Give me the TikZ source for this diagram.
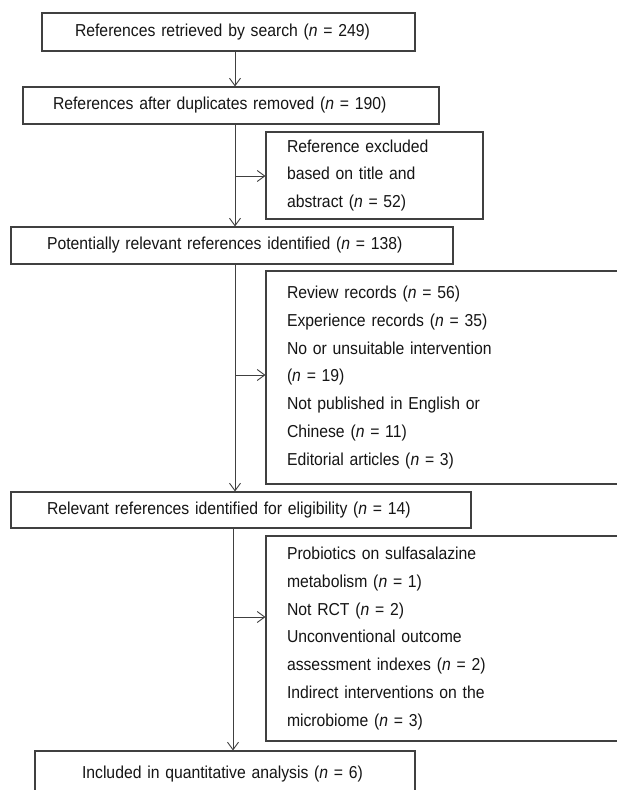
\documentclass[tikz,border=0pt]{standalone}
\usepackage{fontspec}
\setmainfont{Liberation Sans}[FakeStretch=0.91]
\usetikzlibrary{arrows.meta}
\definecolor{linec}{HTML}{404040}
\definecolor{textc}{HTML}{151515}
\newcommand{\nn}{\textit{n}}
\begin{document}
\begin{tikzpicture}[x=1pt,y=-1pt,
  box/.style={draw=linec, line width=1.1pt, rectangle, align=left, inner ysep=0pt,
    text=textc, font={\fontsize{17.3}{27.8}\selectfont}},
  arr/.style={draw=linec, line width=0.9pt, -{Straight Barb[length=7.5pt,width=11pt,line width=0.9pt]}}
]
\useasboundingbox (0,0) rectangle (616,790);
\fill[white] (0,0) rectangle (616,790);

\node[box, minimum width=373pt, minimum height=38pt, inner xsep=33pt, text width=307pt] (b1) at (228.5,32)
  {References retrieved by search (\nn{} = 249)};
\node[box, minimum width=416pt, minimum height=37pt, inner xsep=30pt, text width=356pt] (b2) at (231,105.5)
  {References after duplicates removed (\nn{} = 190)};
\node[box, minimum width=217pt, minimum height=87pt, inner xsep=21pt, text width=175pt] (b3) at (374.5,175.5)
  {Reference excluded\\based on title and\\abstract (\nn{} = 52)};
\node[box, minimum width=442pt, minimum height=37pt, inner xsep=36pt, text width=370pt] (b4) at (232,245.5)
  {Potentially relevant references identified (\nn{} = 138)};
\node[box, minimum width=364pt, minimum height=213pt, inner xsep=21pt, text width=322pt] (b5) at (448,377.5)
  {Review records (\nn{} = 56)\\Experience records (\nn{} = 35)\\No or unsuitable intervention\\(\nn{} = 19)\\Not published in English or\\Chinese (\nn{} = 11)\\Editorial articles (\nn{} = 3)};
\node[box, minimum width=460pt, minimum height=36pt, inner xsep=36pt, text width=388pt] (b6) at (241,510)
  {Relevant references identified for eligibility (\nn{} = 14)};
\node[box, minimum width=364pt, minimum height=205pt, inner xsep=21pt, text width=322pt] (b7) at (448,638.5)
  {Probiotics on sulfasalazine\\metabolism (\nn{} = 1)\\Not RCT (\nn{} = 2)\\Unconventional outcome\\assessment indexes (\nn{} = 2)\\Indirect interventions on the\\microbiome (\nn{} = 3)};
\node[box, minimum width=380pt, minimum height=46pt, inner xsep=47pt, text width=286pt] (b8) at (225,774)
  {Included in quantitative analysis (\nn{} = 6)};

\coordinate (v1) at (235,0);
\coordinate (v2) at (233,0);
\coordinate (j1) at (235,176);
\coordinate (j2) at (235,375);
\coordinate (j3) at (233,617);

\draw[arr] (v1 |- b1.south) -- (v1 |- b2.north);
\draw[arr] (v1 |- b2.south) -- (v1 |- b4.north);
\draw[arr] (v1 |- b4.south) -- (v1 |- b6.north);
\draw[arr] (v2 |- b6.south) -- (v2 |- b8.north);
\draw[arr] (j1) -- (j1 -| b3.west);
\draw[arr] (j2) -- (j2 -| b5.west);
\draw[arr] (j3) -- (j3 -| b7.west);
\end{tikzpicture}
\end{document}
